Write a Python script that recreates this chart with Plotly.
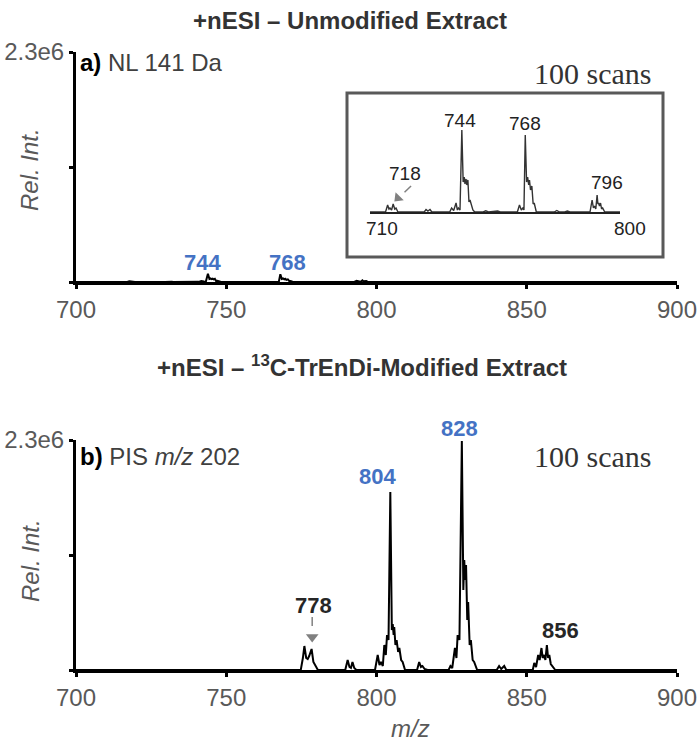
import plotly.graph_objects as go

W, H = 700, 747


def px(x):
    return x / W


def py(y):
    return 1 - y / H


# ---------------- data ----------------
# Panel a (NL 141 Da), intensity in counts x 10^3
a_mz = [700, 714.9, 715.7, 716.2, 716.6, 717.2, 717.8, 718.4, 718.9, 719.6,
        729.6, 730.3, 731.0, 731.8, 732.5,
        739.3, 740.0, 740.8, 741.7, 742.2, 742.6, 743.2, 743.9, 744.4, 744.8,
        745.1, 745.5, 745.8, 746.2, 746.6, 747.0, 748.1, 748.8,
        752.0, 753.0, 754.0, 757.5, 758.5,
        765.0, 765.8, 766.5, 767.1, 767.5, 768.0, 768.5, 768.9, 769.3, 769.6,
        770.0, 770.5, 771.0, 771.4, 772.2,
        779.0, 780.0, 781.0, 783.0, 784.0, 785.0,
        792.6, 793.4, 793.9, 794.3, 794.8, 795.3, 795.6, 795.9, 796.2, 796.6,
        797.0, 797.4, 798.2, 900]
a_int = [0, 0, 7, 3, 4, 2, 8, 3, 4, 0,
         0, 2.5, 1, 2.5, 0,
         0, 4, 1.5, 9, 2, 4, 2, 82, 30, 35,
         28, 33, 27, 32, 10, 12, 2, 0,
         0, 1.2, 0, 1, 0,
         0, 7, 2, 4, 2, 77, 30, 35, 27, 32,
         22, 26, 8, 9, 0,
         0, 1.5, 0, 0, 1, 0,
         0, 12, 4, 6, 3, 17, 8, 9, 6, 9,
         3, 4, 0, 0]

# Panel b (PIS m/z 202), intensity in counts x 10^3
b_mz = [700, 774.8, 775.5, 776.0, 776.6, 777.1, 777.6, 778.4, 779.0, 779.8, 780.5,
        789.6, 790.4, 791.0, 791.5, 792.0, 792.6, 793.3,
        799.5, 800.4, 801.0, 801.5, 802.1, 802.6, 803.1, 803.5, 804.0, 804.6,
        805.1, 805.4, 805.7, 805.9, 806.3, 806.7, 807.2, 807.6, 808.2, 808.7, 809.5,
        813.5, 814.2, 814.8, 815.3, 816.0, 817.0,
        824.0, 824.6, 825.2, 826.1, 826.6, 827.0, 827.6, 828.4, 828.9, 829.2,
        829.5, 829.8, 830.2, 830.5, 831.0, 831.4, 832.0, 832.5, 833.5,
        840.0, 840.8, 841.5, 842.5, 843.2,
        852.0, 852.5, 853.1, 853.8, 854.3, 854.9, 855.3, 855.8, 856.2, 856.7,
        857.1, 857.5, 858.0, 858.6, 859.5, 900]
b_int = [0, 0, 120, 240, 120, 110, 140, 210, 80, 40, 0,
         0, 100, 30, 20, 80, 20, 0,
         0, 150, 50, 80, 40, 250, 150, 350, 300, 1780,
         400, 460, 350, 430, 250, 300, 180, 220, 100, 80, 0,
         0, 80, 30, 40, 10, 0,
         0, 40, 20, 220, 120, 350, 300, 2290, 800, 1100,
         900, 1050, 500, 680, 250, 300, 100, 80, 0,
         0, 40, 10, 40, 0,
         0, 70, 30, 150, 100, 220, 120, 150, 100, 250,
         120, 150, 60, 40, 0, 0]

x_ticks = [700, 750, 800, 850, 900]
y_max = 2300
y_label_ticks = [2300]
y_label_text = ["2.3e6"]
y_minor_ticks = [0, 1150]
inset_range = [709, 804]
inset_ymax = 84

SANS = "Liberation Sans, Arial, sans-serif"
SERIF = "Liberation Serif, Times New Roman, serif"
GRAY = "#595959"
BLUE = "#4472C4"

fig = go.Figure()
fig.add_trace(go.Scatter(x=a_mz, y=a_int, mode="lines", xaxis="x", yaxis="y",
                         line=dict(color="black", width=2), hoverinfo="skip"))
fig.add_trace(go.Scatter(x=b_mz, y=b_int, mode="lines", xaxis="x2", yaxis="y2",
                         line=dict(color="black", width=2), hoverinfo="skip"))
fig.add_trace(go.Scatter(x=a_mz, y=a_int, mode="lines", xaxis="x3", yaxis="y3",
                         line=dict(color="#333333", width=1.4), hoverinfo="skip"))
# arrow heads
fig.add_trace(go.Scatter(x=[778.6], y=[330], mode="markers", xaxis="x2", yaxis="y2",
                         marker=dict(symbol="triangle-down", size=11, color="#808080"),
                         cliponaxis=False, hoverinfo="skip"))
fig.add_trace(go.Scatter(x=[719.6], y=[14], mode="markers", xaxis="x3", yaxis="y3",
                         marker=dict(symbol="triangle-down", size=10, color="#808080", angle=45),
                         cliponaxis=False, hoverinfo="skip"))

xa = dict(range=[700, 900], tickvals=x_ticks, ticks="outside", ticklen=4, tickwidth=3,
          tickcolor="black", showline=True, linewidth=3, linecolor="black",
          showgrid=False, zeroline=False, automargin=False,
          tickfont=dict(family=SANS, size=24, color=GRAY))
ya = dict(range=[0, y_max], tickvals=y_label_ticks, ticktext=y_label_text, ticks="outside",
          ticklen=4, tickwidth=3, tickcolor="black", showline=True, linewidth=3,
          linecolor="black", showgrid=False, zeroline=False, automargin=False,
          minor=dict(tickvals=y_minor_ticks, ticks="outside", ticklen=4, tickwidth=3,
                     tickcolor="black", showgrid=False),
          tickfont=dict(family=SANS, size=24, color=GRAY))

fig.update_layout(
    template="none",
    width=W, height=H, margin=dict(l=0, r=0, t=0, b=0, pad=0),
    paper_bgcolor="white", plot_bgcolor="rgba(0,0,0,0)", showlegend=False,
    xaxis=dict(xa, domain=[px(76), px(677)], anchor="y"),
    yaxis=dict(ya, domain=[py(282), py(52)], anchor="x"),
    xaxis2=dict(xa, domain=[px(76), px(677)], anchor="y2"),
    yaxis2=dict(ya, domain=[py(670), py(440)], anchor="x2"),
    xaxis3=dict(range=inset_range, domain=[px(370), px(620)], anchor="y3",
                showline=True, linewidth=1.5, linecolor="#222222", ticks="",
                showticklabels=False, showgrid=False, zeroline=False, automargin=False),
    yaxis3=dict(range=[0, inset_ymax], domain=[py(212), py(128)], anchor="x3",
                visible=False, showgrid=False, zeroline=False, automargin=False),
)

shapes = [
    dict(type="rect", xref="paper", yref="paper", x0=px(347), x1=px(663),
         y0=py(257), y1=py(93), line=dict(color=GRAY, width=3)),
    dict(type="line", xref="x2", yref="y2", x0=778.6, x1=778.6, y0=530, y1=390,
         line=dict(color="#808080", width=1.5, dash="dash")),
    dict(type="line", xref="x3", yref="y3", x0=724.6, x1=721.0, y0=26, y1=17,
         line=dict(color="#808080", width=1.5, dash="dash")),
]
fig.update_layout(shapes=shapes)

ann = []


def paper_text(text, x, y, size=24, color="#333333", family=SANS, xanchor="center", angle=0):
    ann.append(dict(text=text, x=px(x), y=py(y), xref="paper", yref="paper",
                    xanchor=xanchor, yanchor="middle", showarrow=False, textangle=angle,
                    font=dict(family=family, size=size, color=color)))


paper_text("<b>+nESI – Unmodified Extract</b>", 350, 20, size=24)
paper_text("<b>+nESI – <sup>13</sup>C-TrEnDi-Modified Extract</b>", 362, 366, size=24)
paper_text('<b style="color:black">a)</b> NL 141 Da', 78, 62, size=24, color="#404040", xanchor="left")
paper_text('<b style="color:black">b)</b> PIS <i>m/z</i> 202', 78, 457, size=24, color="#404040", xanchor="left")
paper_text("100 scans", 592, 73, size=30, family=SERIF)
paper_text("100 scans", 592, 456, size=30, family=SERIF)
paper_text("<i>Rel. Int.</i>", 30, 170, size=24, color=GRAY, angle=-90)
paper_text("<i>Rel. Int.</i>", 30, 561, size=24, color=GRAY, angle=-90)
paper_text("<i>m/z</i>", 410, 728, size=24, color=GRAY)

# peak labels (main panels)
paper_text("<b>744</b>", 202, 263, size=22, color=BLUE)
paper_text("<b>768</b>", 287, 263, size=22, color=BLUE)
paper_text("<b>804</b>", 377, 477, size=22, color=BLUE)
paper_text("<b>828</b>", 459, 428, size=22, color=BLUE)
paper_text("<b>778</b>", 313, 605, size=22, color="#262626")
paper_text("<b>856</b>", 560, 630, size=22, color="#262626")

# inset labels
paper_text("744", 460, 120, size=19, color="#222222")
paper_text("768", 525, 123, size=19, color="#222222")
paper_text("718", 405, 173, size=19, color="#222222")
paper_text("796", 607, 182, size=19, color="#222222")
paper_text("710", 382, 228, size=19, color="#222222")
paper_text("800", 630, 228, size=19, color="#222222")

fig.update_layout(annotations=ann)
fig.write_html("out.html", config={"displayModeBar": False},
               post_script="document.body.style.margin='0';")
